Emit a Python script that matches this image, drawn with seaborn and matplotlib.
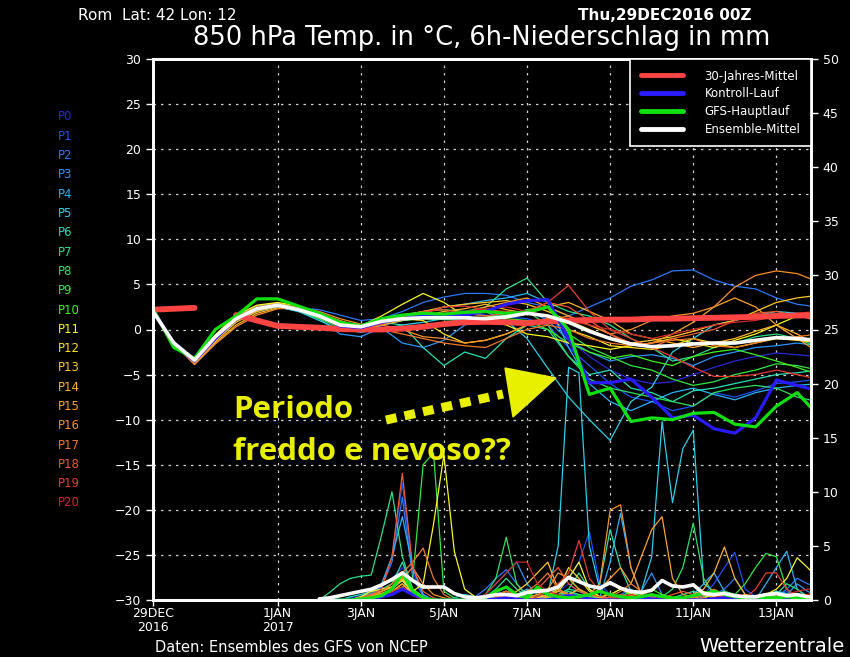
import numpy as np
import pandas as pd

import seaborn as sns
import matplotlib.pyplot as plt
from matplotlib.lines import Line2D
from matplotlib.patches import Polygon


# time axis (hours after 29DEC2016 00Z)
hours_t = np.arange(0, 385, 12)
hours_p = np.arange(96, 385, 6)

# date ticks
tick_hours = [0, 72, 120, 168, 216, 264, 312, 360]
tick_labels = ["29DEC\n2016", "1JAN\n2017", "3JAN", "5JAN", "7JAN", "9JAN", "11JAN", "13JAN"]

members = ["P%d" % i for i in range(21)]
member_colors = ["#2828d8", "#1c50f8", "#2878f8", "#2894f8", "#28b4f8", "#28d0e8",
                 "#28e0b4", "#28e08c", "#30e060", "#30e840", "#40f020", "#f8f820",
                 "#ffe020", "#ffc828", "#ffb428", "#ffa028", "#f89028", "#f07828",
                 "#f05830", "#e83c30", "#d02828"]

# 850 hPa temperature, 12h steps
climate_t = [2.2, 2.3, 2.4, np.nan, 1.6, 1.0, 0.4, 0.3, 0.2, 0.05, 0.0,
             0.0, 0.1, 0.3, 0.6, 0.8, 0.85, 0.8, 0.7, 0.9, 1.0, 1.05,
             1.1, 1.1, 1.2, 1.2, 1.25, 1.3, 1.35, 1.4, 1.5, 1.55, 1.6]
control_t = [2.2, -1.6, -3.5, -1.0, 1.2, 2.3, 2.7, 2.2, 1.5, 0.4, 0.2,
             0.8, 1.2, 1.5, 1.6, 1.6, 2.0, 2.8, 3.2, 3.3, -1.0, -5.9,
             -5.9, -5.5, -7.5, -9.8, -9.5, -11.0, -11.5, -9.8, -5.6, -6.2, -6.8]
gfs_t = [2.3, -2.0, -3.2, 0.0, 1.5, 3.4, 3.4, 2.6, 1.8, 0.8, 0.4,
         1.2, 1.6, 1.8, 1.7, 1.9, 2.0, 1.8, 1.9, 2.5, 0.0, -7.2,
         -6.5, -10.2, -9.8, -10.0, -9.3, -9.2, -10.5, -10.8, -8.5, -7.0, -9.5]
mean_t = [2.0, -1.5, -3.4, -0.8, 1.2, 2.3, 2.7, 2.2, 1.5, 0.5, 0.3,
          0.9, 1.2, 1.3, 1.3, 1.3, 1.2, 1.4, 1.8, 1.5, 0.8, -0.2,
          -1.0, -1.6, -1.9, -1.8, -1.6, -1.5, -1.5, -1.2, -0.9, -1.0, -1.2]

ens_t = [
    [2.1, -1.5, -3.6, -1.2, 1.0, 2.2, 2.6, 2.3, 1.8, 0.6, 0.0,
     0.6, 1.0, 1.5, 1.2, 1.0, 1.3, 1.6, 2.0, 1.5, -1.0, -3.0,
     -4.5, -5.5, -6.0, -5.8, -5.0, -4.2, -3.5, -3.0, -2.6, -2.8, -3.0],
    [2.1, -1.7, -3.8, -1.0, 1.3, 2.4, 2.8, 2.2, 1.5, 0.3, -0.2,
     0.4, 1.0, 1.6, 1.8, 2.0, 1.6, 1.4, 1.2, 0.5, -2.0, -4.0,
     -6.0, -7.5, -8.0, -9.0, -8.5, -7.0, -7.5, -6.8, -6.0, -5.8, -5.5],
    [2.2, -1.3, -3.2, -0.8, 1.5, 2.5, 2.8, 2.4, 2.2, 1.6, 1.0,
     1.2, 2.0, 3.0, 3.6, 4.0, 4.0, 3.8, 3.0, 2.5, 1.5, 2.5,
     3.5, 4.8, 5.5, 6.5, 6.6, 5.5, 4.8, 4.5, 3.5, 2.8, 2.5],
    [2.1, -1.6, -3.4, -1.1, 1.2, 2.3, 2.5, 2.0, 1.2, -0.5, -0.8,
     0.2, -1.5, -2.0, -1.2, 0.5, 1.0, 1.5, 2.2, 1.0, -1.2, -2.5,
     -3.5, -3.0, -2.8, -3.2, -4.0, -3.0, -2.5, -2.0, -1.8, -1.5, -1.8],
    [2.2, -1.5, -3.3, -0.7, 1.4, 2.6, 2.9, 2.3, 1.4, 0.5, 0.3,
     1.0, 1.5, 1.8, 2.5, 2.8, 3.2, 3.5, 4.0, 3.0, -2.0, -6.0,
     -8.0, -9.0, -8.0, -7.0, -6.5, -7.2, -7.8, -7.0, -6.5, -6.2, -6.0],
    [2.2, -1.6, -3.7, -1.3, 1.0, 2.0, 2.5, 2.0, 1.0, 0.0, -0.3,
     0.0, 0.5, 0.8, 1.2, 1.6, 2.0, 1.0, -1.0, -4.3, -7.5, -10.0,
     -12.3, -8.0, -6.4, -2.5, -1.0, 0.5, 1.0, 1.5, 2.0, 1.8, 1.5],
    [2.1, -1.4, -3.5, -1.0, 1.1, 2.2, 2.6, 2.1, 1.3, 0.4, 0.2,
     0.8, 0.5, -2.0, -4.0, -2.5, -3.2, -1.0, 0.5, 0.0, -3.0, -5.0,
     -4.5, -6.5, -7.0, -8.0, -6.8, -6.5, -6.0, -5.5, -5.0, -4.8, -4.5],
    [2.2, -1.5, -3.5, -1.0, 1.3, 2.4, 2.8, 2.2, 1.5, 0.3, 0.0,
     0.6, 1.5, 2.0, 2.2, 2.0, 2.5, 4.5, 5.7, 3.0, 2.0, 1.5,
     0.5, -1.0, -2.0, -3.5, -3.0, -2.0, -1.5, -0.8, -0.5, -1.0, -2.0],
    [2.1, -1.6, -3.6, -1.1, 1.2, 2.3, 2.7, 2.2, 1.4, 0.5, 0.3,
     0.7, 1.0, 1.2, 1.1, 1.0, 1.3, 1.8, 2.0, 0.5, -3.0, -5.5,
     -6.5, -7.0, -7.5, -8.0, -8.5, -7.0, -6.5, -6.2, -6.5, -7.5, -8.0],
    [2.2, -1.5, -3.4, -0.8, 1.4, 2.5, 2.8, 2.3, 1.5, 0.5, 0.2,
     0.7, 1.2, 1.6, 1.5, 1.4, 1.2, 1.6, 2.2, 2.5, -0.5, -2.0,
     -3.0, -4.0, -4.5, -5.5, -6.2, -5.8, -5.0, -4.5, -3.8, -4.0, -4.5],
    [2.1, -1.8, -3.6, -1.2, 1.0, 2.2, 2.6, 2.1, 1.2, 0.2, -0.2,
     0.5, 1.0, 1.3, 1.6, 1.8, 1.5, 1.2, 1.0, 0.0, -1.5, -2.5,
     -3.2, -2.8, -3.5, -4.0, -3.0, -2.5, -2.2, -2.8, -3.5, -4.2, -5.0],
    [2.2, -1.5, -3.3, -0.6, 1.6, 2.7, 3.0, 2.6, 1.8, 0.8, 0.4,
     1.5, 2.8, 4.0, 3.0, 1.5, 1.0, 0.5, -0.5, -0.8, -1.5, -1.8,
     -2.2, -1.8, -1.5, -1.0, -1.5, -2.0, -1.2, -0.5, 0.5, 1.5, 2.0],
    [2.1, -1.4, -3.4, -0.9, 1.4, 2.5, 2.9, 2.4, 1.6, 0.6, 0.3,
     0.9, 1.2, 1.0, -0.5, -1.5, -1.2, -0.5, 0.5, 1.2, 0.0, -0.8,
     -1.8, -2.0, -2.2, -1.8, -1.0, -1.5, -2.0, -1.5, -1.0, -1.2, -1.5],
    [2.2, -1.6, -3.7, -1.3, 0.8, 2.0, 2.6, 2.3, 1.7, 0.8, 0.5,
     1.0, 1.6, 2.0, 2.5, 2.8, 3.0, 3.2, 2.8, 2.0, 1.0, 0.0,
     -1.0, -1.5, -1.2, -0.8, -0.2, 0.5, 1.0, 2.0, 3.0, 3.5, 3.8],
    [2.1, -1.5, -3.8, -1.5, 0.5, 1.8, 2.4, 2.2, 1.5, 0.5, 0.0,
     0.5, 1.0, 1.5, 2.0, 2.3, 2.8, 2.2, 1.8, 2.5, 3.0, 2.0,
     1.0, -0.5, -1.0, -1.5, -2.0, -1.5, -1.0, -0.2, 0.5, -0.5, -1.8],
    [2.2, -1.4, -3.5, -1.0, 1.0, 2.1, 2.7, 2.4, 1.8, 1.0, 0.3,
     0.7, 1.2, 1.6, 1.4, 1.8, 2.5, 3.0, 3.5, 2.5, 1.5, 0.5,
     -0.5, -1.8, -1.5, -0.5, 0.8, 2.5, 3.5, 2.5, 0.5, -1.0, -2.5],
    [2.1, -1.6, -3.9, -1.6, 0.3, 1.6, 2.3, 2.4, 2.0, 1.2, 0.6,
     0.5, 0.0, -0.8, -1.0, -1.5, -1.2, -0.5, 0.5, 1.0, 1.5, 0.5,
     -0.5, 0.0, 1.0, 1.5, 1.8, 2.5, 4.7, 6.0, 6.5, 6.2, 5.3],
    [2.2, -1.5, -3.6, -1.2, 1.1, 2.3, 2.7, 2.2, 1.5, 0.4, 0.0,
     0.0, -0.5, -1.0, -1.5, -1.8, -2.0, -1.0, 0.0, 0.5, 0.0, -1.0,
     -1.5, -1.8, -1.5, -1.2, -1.0, -1.8, -2.0, -1.5, -1.0, -0.8, -0.5],
    [2.1, -1.4, -3.4, -0.9, 1.3, 2.5, 2.8, 2.3, 1.6, 0.7, 0.4,
     1.0, 1.5, 2.0, 2.2, 1.8, 1.5, 1.8, 2.0, 3.0, 2.5, 1.0,
     -0.5, -1.5, -2.0, -1.0, -0.5, 0.0, 1.0, 1.8, 2.0, 1.5, 1.0],
    [2.2, -1.6, -3.5, -1.0, 1.2, 2.4, 2.8, 2.2, 1.4, 0.4, 0.1,
     0.6, 1.2, 1.8, 2.5, 2.6, 2.2, 2.0, 1.8, 3.0, 4.9, 2.0,
     0.0, -1.0, -2.0, -3.0, -4.2, -5.2, -5.2, -5.0, -4.5, -5.0, -5.5],
    [2.1, -1.5, -3.6, -1.1, 1.2, 2.3, 2.6, 2.2, 1.6, 0.6, 0.3,
     0.8, 1.3, 1.6, 1.8, 2.0, 2.3, 2.5, 2.0, 1.5, 1.0, 0.5,
     0.0, -0.5, -1.0, -0.5, 0.0, 0.5, 0.8, 1.0, 1.5, 1.8, 2.0],
]

# 6h precipitation (mm), 6h steps from 96h
control_p = [0, 0, 0, 0, 0, 0.1, 0.3, 0.5, 1.0, 0.5, 0.2, 0, 0, 0,
             0, 0, 0, 0.1, 0.2, 0.1, 0, 0, 0, 0.2, 0.4, 0.3, 0.1, 0,
             0, 0, 0.1, 0.2, 0.1, 0, 0, 0, 0, 0, 0.1, 0.2, 0.1, 0,
             0, 0, 0, 0.1, 0.2, 0.1, 0]
gfs_p = [0, 0, 0, 0, 0.1, 0.2, 0.4, 1.0, 2.5, 0.8, 0.2, 0, 0, 0,
         0, 0, 0.2, 0.8, 1.2, 0.5, 0.2, 1.2, 0.5, 0.3, 0.2, 0.3, 0.5, 0.8,
         0.5, 0.3, 0.2, 0.3, 0.5, 0.3, 0.2, 0.2, 0.4, 0.6, 0.8, 0.5, 0.3, 0.2,
         0.3, 0.2, 0.2, 0.3, 0.2, 0.2, 0.1]
mean_p = [0.1, 0.2, 0.4, 0.6, 0.8, 1.0, 1.4, 1.9, 2.5, 1.8, 1.2, 1.2, 1.2, 0.6,
          0.3, 0.2, 0.3, 0.5, 0.5, 0.4, 0.7, 0.8, 0.9, 1.2, 2.1, 1.7, 1.3, 1.1,
          1.6, 1.1, 0.8, 0.7, 0.9, 1.8, 1.3, 1.2, 1.4, 0.6, 0.5, 0.6, 0.4, 0.3,
          0.3, 0.5, 0.6, 0.4, 0.5, 0.3, 0.3]

ens_p = [
    [0, 0, 0, 0.2, 0.4, 0.8, 1.2, 2.0, 3.0, 1.0, 0.3, 0, 0, 0,
     0, 0.2, 0.5, 0.3, 0, 0, 0.4, 1.0, 0.5, 0.8, 1.5, 0.8, 0.3, 0,
     0, 0.2, 0.5, 0.3, 0, 0, 0, 0, 0, 0.2, 0.5, 0.3, 0, 0,
     0, 0.2, 0.5, 0.8, 0.3, 0, 0],
    [0, 0, 0, 0, 0.3, 0.5, 1.0, 4.0, 10.8, 2.5, 0.5, 0, 0, 0,
     0, 0, 0.3, 0.8, 0.5, 0.2, 0, 0, 0.5, 1.2, 2.0, 3.5, 6.3, 1.5,
     0.5, 0.2, 0, 0, 0.3, 0.5, 0.2, 0, 0, 0.5, 1.5, 3.0, 4.4, 1.0,
     0.3, 0, 0, 0.2, 0.5, 0.3, 0.2],
    [0, 0, 0, 0, 0.2, 0.5, 1.2, 3.5, 9.5, 2.0, 0.4, 0, 0, 0,
     0, 0.3, 1.0, 2.0, 2.8, 1.5, 0.5, 0.3, 0, 0, 0.5, 0.3, 0, 0,
     0, 0.5, 1.0, 0.5, 0.2, 0, 0, 0, 0.2, 0.3, 0.5, 1.0, 2.0, 0.5,
     0.2, 0, 0.3, 1.0, 2.0, 1.5, 1.2],
    [0, 0, 0, 0, 0, 0.3, 0.8, 1.5, 2.5, 0.8, 0.2, 0, 0, 0,
     0, 0, 0.5, 1.5, 2.5, 3.5, 1.5, 0.5, 0, 0.2, 0.8, 0.3, 0, 0,
     0, 0, 0.3, 0.8, 2.5, 0.5, 0.2, 0, 0, 0, 0.3, 0.8, 0.5, 0.2,
     0, 0, 0, 0.5, 1.5, 0.8, 0.4],
    [0, 0, 0, 0, 0.3, 0.6, 1.5, 4.0, 7.7, 3.0, 0.5, 0, 0, 0,
     0, 0, 0, 0.4, 0.8, 0.5, 0.2, 0, 0, 0.3, 0.8, 0.5, 0.3, 0.2,
     3.5, 8.0, 3.0, 0.5, 0.2, 0, 0, 0.2, 0.5, 1.5, 2.5, 0.8, 0.2, 0,
     0, 1.5, 3.0, 4.5, 1.0, 0.3, 0],
    [0, 0, 0, 0, 0, 0.2, 0.5, 1.0, 1.8, 0.6, 0.2, 0, 0, 0.2,
     0.5, 0.3, 0, 0, 0, 0.5, 1.0, 0.8, 0.5, 5.0, 21.5, 21.0, 5.0, 1.0,
     0.3, 0.2, 0.5, 0.8, 4.0, 16.5, 9.0, 14.0, 15.7, 1.5, 0.8, 0.5, 0.3, 0.2,
     0.3, 0.5, 0.8, 0.6, 0.4, 0.2, 0.5],
    [0, 0, 0, 0.3, 0.5, 0.8, 1.0, 1.5, 3.5, 1.0, 0.3, 0, 0, 0,
     0, 0, 0.2, 0.5, 0.8, 0.5, 0.2, 0, 0.3, 0.5, 1.0, 0.8, 0.5, 1.5,
     6.5, 3.0, 0.8, 0.3, 0, 0, 0.2, 0.5, 0.8, 0.5, 0.3, 0, 0, 0,
     0.2, 0.5, 0.3, 0, 0, 0.2, 0.3],
    [0, 0.7, 1.5, 2.0, 2.2, 2.3, 6.0, 10.0, 4.0, 1.0, 0.2, 0, 0, 0,
     0, 0, 0.3, 1.0, 2.0, 1.0, 0.3, 0, 0.2, 0.5, 1.0, 2.5, 1.0, 0.3,
     0, 0.3, 0.8, 0.5, 0.2, 0, 0, 0, 0, 0.3, 0.8, 0.5, 0.2, 0,
     0, 0.2, 0.5, 1.5, 1.0, 0.3, 0],
    [0, 0, 0, 0, 0.2, 0.5, 0.8, 1.2, 2.0, 0.8, 0.2, 0, 0, 0,
     0, 0, 0.5, 2.0, 5.8, 1.5, 0.3, 0, 0.2, 0.5, 0.8, 0.5, 0.3, 0.2,
     0.5, 1.0, 0.5, 0.2, 0, 0.3, 1.0, 3.0, 7.1, 2.0, 0.5, 0.2, 0, 0,
     0, 0.2, 0.3, 0.5, 0.2, 0, 0],
    [0, 0, 0, 0, 0, 0.2, 0.5, 0.8, 1.2, 2.0, 12.5, 13.6, 0.8, 0.2,
     0, 0, 0, 0.2, 0.3, 0.2, 0, 0, 0, 0.2, 0.5, 1.0, 0.5, 0.2,
     0, 0.3, 0.8, 0.5, 0.2, 0, 0, 0, 0, 0.2, 0.5, 0.8, 0.5, 1.5,
     3.0, 4.3, 4.0, 1.0, 0.3, 0.2, 0],
    [0, 0, 0, 0, 0.2, 0.4, 0.8, 1.5, 2.6, 1.0, 0.3, 0, 0, 0,
     0, 0, 0, 0.2, 0.5, 0.3, 0, 0.3, 0.8, 1.5, 2.0, 1.0, 0.3, 0,
     0, 0, 0.3, 0.5, 1.0, 0.5, 0.2, 0, 0.2, 0.5, 0.3, 0, 0, 0,
     0, 0, 0.2, 0.5, 0.3, 0.2, 0.3],
    [0, 0, 0, 0, 0.3, 0.8, 1.0, 1.2, 1.8, 0.8, 1.5, 7.0, 13.4, 4.5,
     1.0, 0.3, 0, 0, 0.2, 0.5, 0.8, 1.0, 0.5, 0.8, 2.0, 3.5, 1.0, 0.3,
     0, 0.2, 0.5, 0.3, 0, 0, 0, 0, 0, 0.2, 0.5, 0.3, 0, 0,
     0.2, 0.5, 1.0, 2.0, 3.9, 3.0, 2.0],
    [0, 0, 0, 0, 0.2, 0.4, 0.6, 1.0, 2.0, 0.5, 0.2, 0, 0, 0,
     0, 0, 0.3, 0.8, 1.2, 0.6, 0.3, 0.2, 0.5, 1.0, 3.0, 2.0, 0.8, 0.3,
     0.5, 1.0, 0.6, 0.3, 0.2, 0, 0, 0, 0.3, 0.5, 0.3, 0, 0.2, 0.5,
     0.3, 0, 0, 0.2, 0.4, 0.3, 0.2],
    [0, 0, 0, 0, 0, 0.2, 0.5, 0.8, 1.5, 0.5, 0.2, 0, 0, 0,
     0, 0, 0.2, 0.5, 0.3, 0.8, 1.5, 2.5, 3.5, 1.0, 0.5, 0.3, 0, 0,
     0, 0.2, 0.5, 0.3, 0, 0, 0, 0, 0.3, 0.8, 0.5, 0.2, 0, 0,
     0, 0, 0.3, 0.5, 0.3, 0, 0],
    [0, 0, 0, 0, 0.2, 0.5, 0.8, 1.2, 2.2, 0.8, 0.3, 0, 0, 0,
     0, 0, 0.2, 0.5, 0.3, 0, 0.2, 0.5, 0.3, 0.2, 0.5, 1.0, 0.5, 0.2,
     0, 0.3, 0.5, 0.3, 0.2, 0, 0, 0.2, 0.5, 1.0, 2.5, 4.9, 2.0, 0.5,
     0.2, 0, 0, 0.2, 0.3, 0.2, 0],
    [0, 0, 0, 0, 0, 0.3, 0.6, 0.8, 1.5, 0.5, 0.2, 0, 0, 0,
     0, 0, 0, 0.3, 0.5, 0.3, 0, 0, 0.3, 0.8, 0.5, 0.3, 0.5, 1.0,
     2.0, 3.0, 1.5, 4.0, 6.5, 7.7, 2.0, 0.5, 0.3, 0, 0, 0.2, 0.5, 0.3,
     0, 0, 0.2, 0.5, 0.3, 0, 0],
    [0, 0, 0, 0, 0.2, 0.3, 0.5, 1.0, 2.0, 3.0, 1.5, 0.5, 0.2, 0,
     0, 0, 0.2, 0.5, 0.8, 0.5, 0.2, 0.5, 1.0, 2.5, 2.0, 1.0, 0.5, 1.5,
     8.3, 8.8, 3.0, 0.5, 0.2, 0, 0, 0, 0.2, 0.5, 0.3, 0, 0, 0,
     0, 0.2, 0.5, 0.3, 0.2, 0, 0],
    [0, 0, 0, 0, 0.2, 0.4, 0.8, 1.5, 2.5, 3.5, 4.8, 2.0, 0.5, 0,
     0, 0, 0, 0.2, 0.5, 0.3, 0.8, 1.5, 2.5, 1.0, 0.5, 0.3, 0.2, 0,
     0.3, 0.8, 1.5, 0.8, 0.3, 0, 0, 0, 0.2, 0.5, 1.0, 0.5, 0.2, 0,
     0, 0, 0.3, 0.5, 0.3, 0.2, 0],
    [0, 0, 0, 0, 0.2, 0.5, 1.0, 4.0, 11.7, 3.0, 0.8, 0.2, 0, 0,
     0, 0, 0.2, 0.5, 0.8, 0.5, 0.3, 1.0, 2.0, 3.0, 1.5, 0.8, 0.5, 0.3,
     0.2, 0.5, 0.3, 0, 0, 0.2, 0.5, 0.8, 0.5, 0.2, 0, 0, 0, 0,
     0, 0, 0.2, 0.3, 0.2, 0, 0],
    [0, 0, 0, 0, 0, 0.2, 0.5, 0.8, 1.2, 0.5, 0.2, 0, 0, 0,
     0, 0, 0.2, 0.5, 0.3, 0, 0, 0.3, 0.8, 1.5, 2.5, 5.5, 2.0, 0.8,
     0.3, 0.2, 0, 0.2, 0.5, 0.3, 0, 0, 0, 0, 0.2, 0.5, 0.3, 0.2,
     1.0, 2.5, 2.5, 1.0, 0.3, 0.5, 0.8],
    [0, 0, 0, 0, 0, 0.2, 0.4, 0.6, 1.0, 0.4, 0, 0, 0, 0,
     0, 0, 0.5, 1.5, 2.5, 3.5, 3.5, 1.5, 0.8, 0.5, 0.3, 0.2, 0, 0,
     0, 0.2, 0.5, 0.3, 0, 0, 0, 0, 0, 0, 0.2, 0.3, 0.2, 0,
     0, 0, 0.2, 0.5, 0.8, 1.0, 1.0],
]

# long tables for seaborn
temp_df = pd.DataFrame({
    "hour": np.tile(hours_t, len(members)),
    "temp": np.concatenate(ens_t),
    "member": np.repeat(members, len(hours_t)),
})
prec_df = pd.DataFrame({
    "hour": np.tile(hours_p, len(members)),
    "prec": np.concatenate(ens_p),
    "member": np.repeat(members, len(hours_p)),
})
palette = dict(zip(members, member_colors))

sns.set_style("ticks", {"axes.facecolor": "black", "figure.facecolor": "black",
                        "axes.edgecolor": "white", "xtick.color": "white",
                        "ytick.color": "white", "text.color": "white"})
plt.rcParams["font.family"] = ["DejaVu Sans"]

fig = plt.figure(figsize=(8.5, 6.57), dpi=100)
ax = fig.add_axes([153 / 850, 57 / 657, 658 / 850, 541 / 657])
ax2 = ax.twinx()

# Temperature
sns.lineplot(data=temp_df, x="hour", y="temp", hue="member", palette=palette,
             linewidth=0.9, legend=False, ax=ax)
ax.plot(hours_t, climate_t, color="#ff4444", lw=4.2, zorder=5)
ax.plot(hours_t, control_t, color="#2a1aff", lw=2.3, zorder=5)
ax.plot(hours_t, gfs_t, color="#10e010", lw=2.3, zorder=5)
ax.plot(hours_t, mean_t, color="white", lw=2.6, zorder=6)

# Precipitation
sns.lineplot(data=prec_df, x="hour", y="prec", hue="member", palette=palette,
             linewidth=0.9, legend=False, ax=ax2)
ax2.plot(hours_p, control_p, color="#2a1aff", lw=2.3)
ax2.plot(hours_p, gfs_p, color="#10e010", lw=2.3)
ax2.plot(hours_p, mean_p, color="white", lw=2.6)

# Axes
ax.set_xlim(0, 380)
ax.set_ylim(-30, 30)
ax2.set_ylim(0, 50)
ax.set_yticks(np.arange(-30, 31, 5))
ax2.set_yticks(np.arange(0, 51, 5))
ax.set_xticks(tick_hours)
ax.set_xticklabels(tick_labels, fontsize=9, linespacing=1.1)
ax.tick_params(axis="y", labelsize=9, length=5, width=1, colors="white")
ax2.tick_params(axis="y", labelsize=9, length=5, width=1, colors="white")
ax.tick_params(axis="x", length=4, width=1, pad=1, colors="white")
ax.set_xlabel("")
ax.set_ylabel("")
ax2.set_ylabel("")
for a in (ax, ax2):
    for sp in a.spines.values():
        sp.set_color("white")
        sp.set_linewidth(2)
# dotted grid
for h in tick_hours[1:]:
    ax.axvline(h, color="#d0d0d0", lw=0.9, ls=(0, (2, 4)), zorder=0)
for v in range(-25, 30, 5):
    ax.axhline(v, color="#d0d0d0", lw=0.9, ls=(0, (2, 4)), zorder=0)

# Legend
handles = [Line2D([], [], color="#ff4444", lw=3.5), Line2D([], [], color="#2a1aff", lw=3.5),
           Line2D([], [], color="#10e010", lw=3.5), Line2D([], [], color="white", lw=3.5)]
leg = ax2.legend(handles, ["30-Jahres-Mittel", "Kontroll-Lauf", "GFS-Hauptlauf", "Ensemble-Mittel"],
                 loc="upper right", bbox_to_anchor=(1, 1), borderaxespad=0, fontsize=8.5,
                 handlelength=3.6, handletextpad=1.8, labelspacing=0.4, borderpad=0.9,
                 fancybox=False, framealpha=1, facecolor="black", edgecolor="white")
leg.get_frame().set_linewidth(1.2)
for t in leg.get_texts():
    t.set_color("white")

# Member labels on the left
for i, (m, c) in enumerate(zip(members, member_colors)):
    fig.text(58 / 850, 1 - (117 + i * 19.3) / 657, m, color=c, fontsize=8.5, va="center", ha="left")

# Header / footer texts
fig.text(78 / 850, 1 - 15 / 657, "Rom  Lat: 42 Lon: 12", fontsize=11, va="center", color="white")
fig.text(578 / 850, 1 - 15 / 657, "Thu,29DEC2016 00Z", fontsize=11, va="center",
         fontweight="bold", color="white")
fig.text(482 / 850, 1 - 38 / 657, "850 hPa Temp. in °C, 6h-Niederschlag in mm",
         fontsize=18.5, ha="center", va="center", color="white")
fig.text(155 / 850, 1 - 648 / 657, "Daten: Ensembles des GFS von NCEP", fontsize=10.5,
         va="center", color="white")
fig.text(845 / 850, 1 - 647 / 657, "Wetterzentrale", fontsize=14, ha="right",
         va="center", color="white")

# Annotation
yel = "#e8f000"
fig.text(233 / 850, 1 - 418 / 657, "Periodo", fontsize=22.5, fontweight="bold",
         family="Open Sans", color=yel, va="baseline")
fig.text(233 / 850, 1 - 460 / 657, "freddo e nevoso??", fontsize=22.5, fontweight="bold",
         family="Open Sans", color=yel, va="baseline")
fig.add_artist(Line2D([386 / 850, 503 / 850], [1 - 420 / 657, 1 - 394 / 657],
                      transform=fig.transFigure, color=yel, lw=6.5, ls=(0, (1.2, 0.9))))
head = [(505, 368), (513, 417), (556, 378)]
fig.add_artist(Polygon([(x / 850, 1 - y / 657) for x, y in head], closed=True,
                       transform=fig.transFigure, color=yel))

fig.savefig("out.png", dpi=100, facecolor="black")
